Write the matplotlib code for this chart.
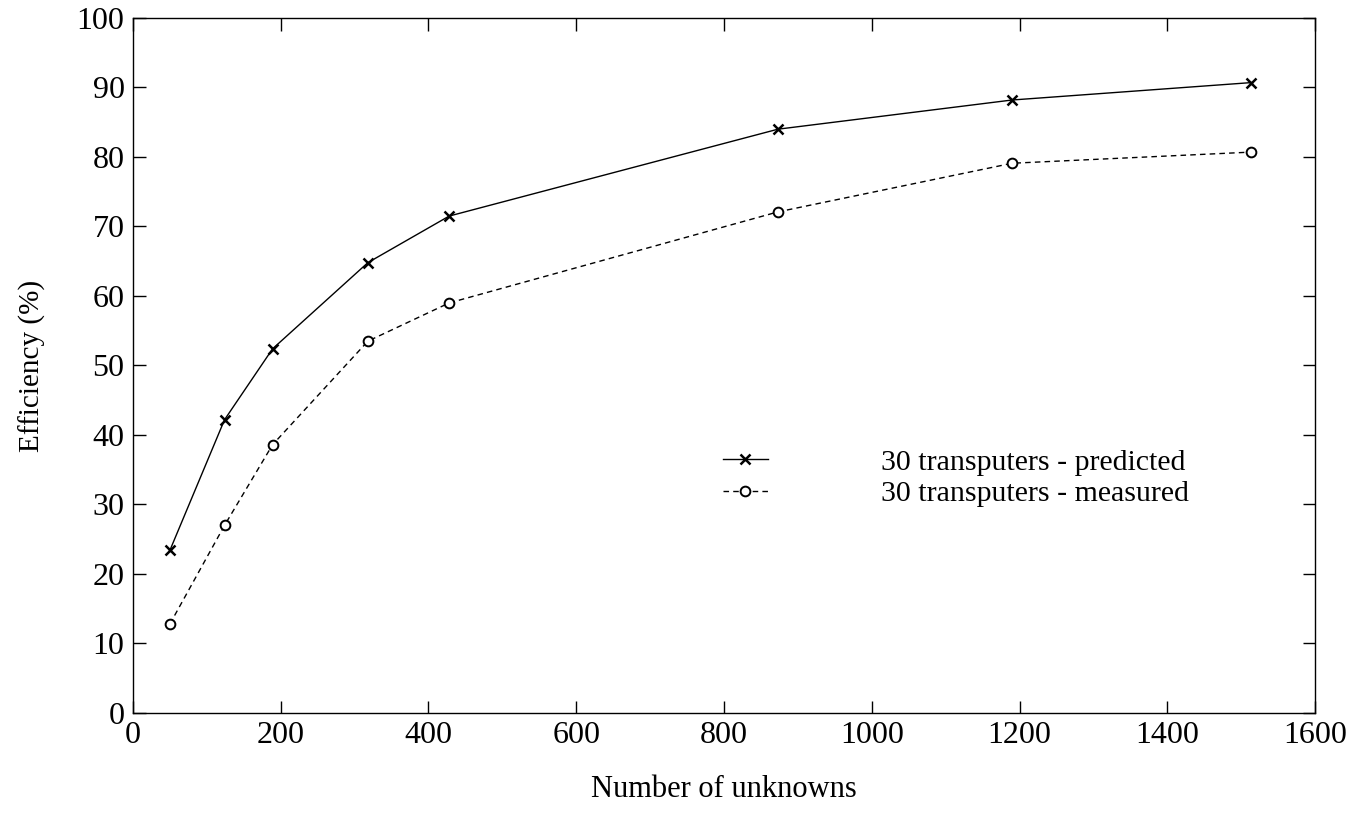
import matplotlib.pyplot as plt

unknowns = [50, 124, 189, 318, 428, 873, 1190, 1513]
predicted = [23.4, 42.2, 52.4, 64.8, 71.5, 84.0, 88.2, 90.7]
measured = [12.8, 27.0, 38.6, 53.5, 59.0, 72.1, 79.1, 80.7]

x_ticks = [0, 200, 400, 600, 800, 1000, 1200, 1400, 1600]
y_ticks = [0, 10, 20, 30, 40, 50, 60, 70, 80, 90, 100]

plt.rcParams["font.family"] = ["Liberation Serif", "DejaVu Serif"]

fig = plt.figure(figsize=(13.65, 8.18), dpi=100)
ax = fig.add_axes([0.0974, 0.1284, 0.866, 0.8496])

ax.plot(unknowns, predicted, color="black", linewidth=1.0, linestyle="-",
        marker="x", markersize=7, markeredgewidth=1.8,
        label="30 transputers - predicted")
ax.plot(unknowns, measured, color="black", linewidth=1.0, linestyle=(0, (4, 3)),
        marker="o", markersize=7, markerfacecolor="white", markeredgewidth=1.4,
        label="30 transputers - measured")

ax.set_xlim(0, 1600)
ax.set_ylim(0, 100)
ax.set_xticks(x_ticks)
ax.set_yticks(y_ticks)
ax.tick_params(direction="in", length=9, width=1, labelsize=23,
               top=True, right=True, pad=6)
for s in ax.spines.values():
    s.set_linewidth(1.0)

ax.set_xlabel("Number of unknowns", fontsize=22, labelpad=18)
ax.set_ylabel("Efficiency (%)", fontsize=21, labelpad=22)

ax.legend(loc="upper left", bbox_to_anchor=(723 / 1365, 1 - 449 / 818),
          bbox_transform=fig.transFigure, frameon=False, fontsize=21.5,
          handlelength=1.5, handletextpad=3.8, labelspacing=0.15,
          borderpad=0, borderaxespad=0)

fig.savefig("out.png", dpi=100)
